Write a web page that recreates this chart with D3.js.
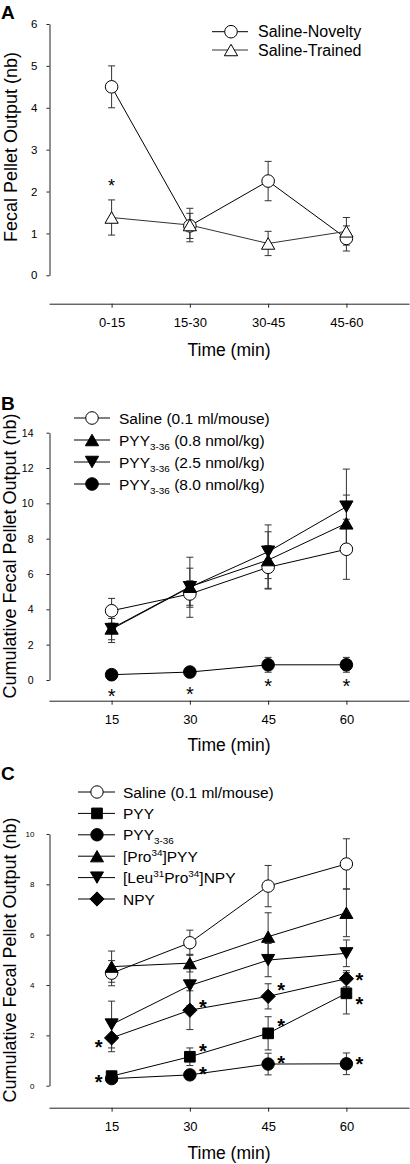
<!DOCTYPE html>
<html><head><meta charset="utf-8">
<script src="https://cdn.jsdelivr.net/npm/d3@7"></script>
<style>
body{margin:0;background:#fff}
svg{display:block}
text{font-family:"Liberation Sans",Arial,Helvetica,sans-serif;fill:#000}
</style>
</head><body>
<svg id="chart" width="410" height="1164"></svg>
<script>
// ---------------- DATA ----------------
// Panel A
const catA = ["0-15", "15-30", "30-45", "45-60"];
const noveltyMean = [4.5, 1.18, 2.25, 0.88];
const noveltyErr  = [0.5, 0.3, 0.47, 0.3];
const trainedMean = [1.38, 1.2, 0.76, 1.05];
const trainedErr  = [0.42, 0.4, 0.29, 0.33];
const starA = [{i: 0, v: 2.23}];
const yTicksA = [0, 1, 2, 3, 4, 5, 6];

// Panel B
const timesB = [15, 30, 45, 60];
const salineB = [3.92, 4.87, 6.38, 7.4];
const salineBErr = [0.7, 0.75, 1.23, 1.7];
const pyy08B = [2.92, 5.28, 6.79, 8.87];
const pyy08BErr = [0.8, 1.05, 1.6, 1.6];
const pyy25B = [2.88, 5.25, 7.26, 9.81];
const pyy25BErr = [0.6, 1.7, 1.52, 2.13];
const pyy80B = [0.3, 0.45, 0.86, 0.86];
const pyy80BErr = [0.12, 0.1, 0.42, 0.42];
const starBValue = [-0.65, -0.55, -0.1, -0.1];
const yTicksB = [0, 2, 4, 6, 8, 10, 12, 14];

// Panel C
const timesC = [15, 30, 45, 60];
const salineC = [4.47, 5.68, 7.93, 8.81];
const salineCErr = [0.5, 0.5, 0.82, 1.0];
const pyyC = [0.38, 1.15, 2.08, 3.67];
const pyyCErr = [0.08, 0.35, 0.66, 0.82];
const pyy336C = [0.28, 0.43, 0.86, 0.87];
const pyy336CErr = [0.06, 0.08, 0.43, 0.43];
const pro34C = [4.73, 4.87, 5.92, 6.87];
const pro34CErr = [0.62, 0.35, 0.95, 0.95];
const leuC = [2.43, 3.98, 4.99, 5.26];
const leuCErr = [0.93, 0.8, 0.66, 0.53];
const npyC = [1.9, 3.0, 3.55, 4.25];
const npyCErr = [0.55, 0.77, 0.5, 0.32];
// significance stars: index of time point, side (-1 left / +1 right), value level
const starCIndex = [0, 1, 2, 3, 0, 1, 2, 3, 1, 2, 3];
const starCSide  = [-1, 1, 1, 1, -1, 1, 1, 1, 1, 1, 1];
const starCValue = [1.72, 3.30, 3.96, 4.38, 0.33, 1.57, 2.54, 3.42, 0.62, 1.09, 1.02];
const yTicksC = [0, 2, 4, 6, 8, 10];

const xTitle = "Time (min)";
const yTitleA = "Fecal Pellet Output (nb)";
const yTitleBC = "Cumulative Fecal Pellet Output (nb)";

// ---------------- DRAWING ----------------
const svg = d3.select("#chart");
const FONT = '"Liberation Sans",Arial,Helvetica,sans-serif';
const AX = "#222";

function symbolPath(type, r) {
  if (type === "circle") return d3.symbol(d3.symbolCircle, Math.PI * r * r)();
  if (type === "square") { const s = r * 1.72; return `M${-s/2},${-s/2}h${s}v${s}h${-s}Z`; }
  if (type === "diamond") { const d = r * 1.15; return `M0,${-d}L${d},0L0,${d}L${-d},0Z`; }
  const w = r * 2.1, h = w * 0.87;
  if (type === "triUp") return `M0,${-h/2}L${w/2},${h/2}L${-w/2},${h/2}Z`;
  return `M0,${h/2}L${w/2},${-h/2}L${-w/2},${-h/2}Z`;
}

function richText(sel, label, fs) {
  const re = /(_\{[^}]*\}|\^\{[^}]*\})/;
  const parts = label.split(re).filter(p => p.length);
  let shift = 0;
  parts.forEach(p => {
    let txt = p, dy = 0, size = fs;
    if (p.startsWith("_{")) { txt = p.slice(2, -1); dy = 4; size = fs * 0.64; }
    else if (p.startsWith("^{")) { txt = p.slice(2, -1); dy = -6; size = fs * 0.64; }
    const t = sel.append("tspan").text(txt).attr("font-size", size);
    const d = dy - shift;
    if (d !== 0) t.attr("dy", d);
    shift = dy;
  });
}

function drawPanel(cfg) {
  const g = svg.append("g");
  const {x, y, series, xAxisY, xTickVals, xTickFmt, yTicks, yFs, yPad} = cfg;
  const ya = d3.axisLeft(y).tickValues(yTicks).tickSize(3).tickSizeOuter(0).tickPadding(yPad)
    .tickFormat(d3.format("d"));
  const yg = g.append("g").attr("transform", `translate(49.5,0)`).call(ya);
  yg.selectAll("text").attr("font-size", yFs).attr("font-family", FONT).attr("fill", "#000");
  yg.selectAll("path,line").attr("stroke", AX);
  const xa = d3.axisBottom(x).tickValues(xTickVals).tickFormat(xTickFmt).tickSize(4).tickSizeOuter(0).tickPadding(10);
  const xg = g.append("g").attr("transform", `translate(0,${xAxisY})`).call(xa);
  xg.selectAll("text").attr("font-size", 13).attr("font-family", FONT).attr("fill", "#000");
  xg.selectAll("path,line").attr("stroke", AX);
  g.append("text").attr("x", 229).attr("y", xAxisY + cfg.xTitleDy).attr("text-anchor", "middle")
    .attr("font-size", 17.5).text(xTitle);
  g.append("text").attr("transform", `translate(${cfg.yTitleX},${cfg.yTitleY}) rotate(-90)`)
    .attr("text-anchor", "middle").attr("font-size", 18).text(cfg.yTitle);
  g.append("text").attr("x", 1).attr("y", cfg.letterY).attr("font-size", 19).attr("font-weight", "bold").text(cfg.letter);

  const cap = 3.5;
  series.forEach(s => {
    s.mean.forEach((m, i) => {
      const cx = x(s.xs[i]);
      const e = s.err[i];
      const eg = g.append("g").attr("stroke", "#333").attr("stroke-width", 1);
      eg.append("line").attr("x1", cx).attr("x2", cx).attr("y1", y(m + e)).attr("y2", y(m - e));
      eg.append("line").attr("x1", cx - cap).attr("x2", cx + cap).attr("y1", y(m + e)).attr("y2", y(m + e));
      eg.append("line").attr("x1", cx - cap).attr("x2", cx + cap).attr("y1", y(m - e)).attr("y2", y(m - e));
    });
  });
  series.forEach(s => {
    const line = d3.line().x((d, i) => x(s.xs[i])).y(d => y(d));
    g.append("path").attr("d", line(s.mean)).attr("fill", "none").attr("stroke", s.lineColor || "#000").attr("stroke-width", 1);
  });
  series.forEach(s => {
    s.mean.forEach((m, i) => {
      g.append("path").attr("d", symbolPath(s.symbol, cfg.r))
        .attr("transform", `translate(${x(s.xs[i])},${y(m)})`)
        .attr("fill", s.fill).attr("stroke", "#000").attr("stroke-width", 1);
    });
  });
  series.forEach((s, k) => {
    const ly = cfg.legend.y0 + k * cfg.legend.dy;
    g.append("line").attr("x1", cfg.legend.x1).attr("x2", cfg.legend.x2).attr("y1", ly).attr("y2", ly)
      .attr("stroke", s.lineColor || "#000").attr("stroke-width", 1);
    g.append("path").attr("d", symbolPath(s.symbol, cfg.r))
      .attr("transform", `translate(${cfg.legend.mx},${ly})`)
      .attr("fill", s.fill).attr("stroke", "#000").attr("stroke-width", 1);
    const t = g.append("text").attr("x", cfg.legend.tx).attr("y", ly + cfg.legend.fs * 0.36).attr("font-size", cfg.legend.fs);
    richText(t, s.name, cfg.legend.fs);
  });
  return g;
}

// Panel A
const xA = d3.scaleLinear().domain([-0.8, 3.8]).range([49, 409]);
const yA = d3.scaleLinear().domain([0, 6]).range([275.3, 24]);
const gA = drawPanel({
  x: xA, y: yA, xAxisY: 303.7, xTickVals: [0, 1, 2, 3], xTickFmt: i => catA[i],
  yTicks: yTicksA, yFs: 11.5, yPad: 9, r: 6.3,
  xTitleDy: 52.5, yTitle: yTitleA, yTitleX: 17, yTitleY: 147, letter: "A", letterY: 19,
  legend: {y0: 31.7, dy: 18.3, x1: 212, x2: 248, mx: 231, tx: 258, fs: 16},
  series: [
    {name: "Saline-Novelty", xs: [0, 1, 2, 3], mean: noveltyMean, err: noveltyErr, symbol: "circle", fill: "#fff"},
    {name: "Saline-Trained", xs: [0, 1, 2, 3], mean: trainedMean, err: trainedErr, symbol: "triUp", fill: "#fff", lineColor: "#333"}
  ]
});
starA.forEach(s => {
  gA.append("text").attr("x", xA(s.i)).attr("y", yA(s.v) + 0.57 * 18).attr("text-anchor", "middle")
    .attr("font-size", 18).text("*");
});

// Panel B
const xB = d3.scaleLinear().domain([3, 72]).range([49, 409]);
const yB = d3.scaleLinear().domain([0, 14]).range([680, 432.7]);
const gB = drawPanel({
  x: xB, y: yB, xAxisY: 700.7, xTickVals: timesB, xTickFmt: d3.format("d"),
  yTicks: yTicksB, yFs: 10.5, yPad: 13, r: 6.3,
  xTitleDy: 50.5, yTitle: yTitleBC, yTitleX: 15.5, yTitleY: 556, letter: "B", letterY: 410,
  legend: {y0: 418, dy: 22, x1: 74, x2: 110, mx: 92, tx: 119, fs: 15.5},
  series: [
    {name: "Saline (0.1 ml/mouse)", xs: timesB, mean: salineB, err: salineBErr, symbol: "circle", fill: "#fff"},
    {name: "PYY_{3-36} (0.8 nmol/kg)", xs: timesB, mean: pyy08B, err: pyy08BErr, symbol: "triUp", fill: "#000"},
    {name: "PYY_{3-36} (2.5 nmol/kg)", xs: timesB, mean: pyy25B, err: pyy25BErr, symbol: "triDown", fill: "#000"},
    {name: "PYY_{3-36} (8.0 nmol/kg)", xs: timesB, mean: pyy80B, err: pyy80BErr, symbol: "circle", fill: "#000"}
  ]
});
timesB.forEach((t, i) => {
  gB.append("text").attr("x", xB(t)).attr("y", yB(starBValue[i]) + 0.57 * 20).attr("text-anchor", "middle")
    .attr("font-size", 20).text("*");
});

// Panel C
const xC = d3.scaleLinear().domain([3, 72]).range([49, 409]);
const yC = d3.scaleLinear().domain([0, 10]).range([1085.7, 834]);
const gC = drawPanel({
  x: xC, y: yC, xAxisY: 1107.7, xTickVals: timesC, xTickFmt: d3.format("d"),
  yTicks: yTicksC, yFs: 8, yPad: 12, r: 6.2,
  xTitleDy: 51.5, yTitle: yTitleBC, yTitleX: 15.5, yTitleY: 960, letter: "C", letterY: 780,
  legend: {y0: 792, dy: 21.4, x1: 78, x2: 115, mx: 97, tx: 123, fs: 15.5},
  series: [
    {name: "Saline (0.1 ml/mouse)", xs: timesC, mean: salineC, err: salineCErr, symbol: "circle", fill: "#fff"},
    {name: "PYY", xs: timesC, mean: pyyC, err: pyyCErr, symbol: "square", fill: "#000"},
    {name: "PYY_{3-36}", xs: timesC, mean: pyy336C, err: pyy336CErr, symbol: "circle", fill: "#000"},
    {name: "[Pro^{34}]PYY", xs: timesC, mean: pro34C, err: pro34CErr, symbol: "triUp", fill: "#000"},
    {name: "[Leu^{31}Pro^{34}]NPY", xs: timesC, mean: leuC, err: leuCErr, symbol: "triDown", fill: "#000"},
    {name: "NPY", xs: timesC, mean: npyC, err: npyCErr, symbol: "diamond", fill: "#000"}
  ]
});
starCIndex.forEach((ti, k) => {
  gC.append("text").attr("x", xC(timesC[ti]) + starCSide[k] * 13).attr("y", yC(starCValue[k]) + 0.57 * 20)
    .attr("text-anchor", "middle").attr("font-size", 20).attr("font-weight", "bold").text("*");
});
</script>
</body></html>
